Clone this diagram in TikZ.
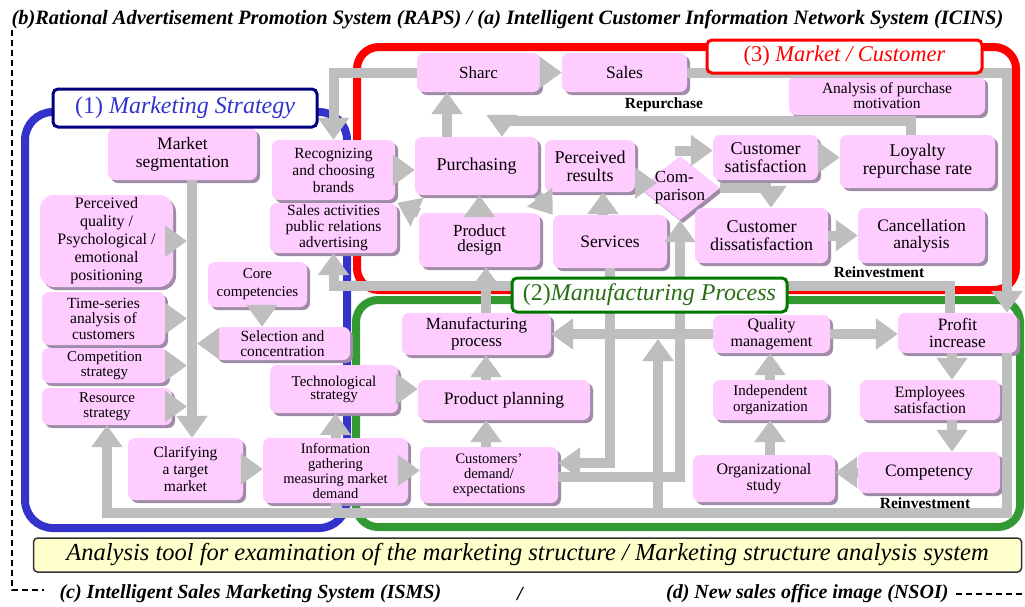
\documentclass[tikz,border=0pt]{standalone}
\usepackage{fontspec}
\setmainfont{Liberation Serif}
\usetikzlibrary{arrows.meta,shapes.geometric,shadows}
\definecolor{pinkbox}{RGB}{255,204,255}
\definecolor{boxshade}{RGB}{160,140,168}
\definecolor{arrgray}{RGB}{190,190,190}
\definecolor{mblue}{RGB}{51,51,204}
\definecolor{mnavy}{RGB}{0,0,128}
\definecolor{mgreen}{RGB}{51,153,51}
\definecolor{dgreen}{RGB}{0,120,0}
\definecolor{tgreen}{RGB}{40,110,20}
\definecolor{cream}{RGB}{255,255,204}

\begin{document}
\begin{tikzpicture}[x=1pt,y=-1pt,
	box/.style 2 args={rectangle,rounded corners=7pt,fill=pinkbox,align=center,inner sep=1pt,
		minimum width=#1pt,minimum height=#2pt,
		drop shadow={shadow xshift=3pt,shadow yshift=-3pt,fill=boxshade,opacity=1}},
	fs/.style 2 args={font=\fontsize{#1}{#2}\selectfont},
	flow/.style={draw=arrgray,line width=10pt,-{Triangle[length=22pt,width=30pt]}},
	pipe/.style={draw=arrgray,line width=10pt},
	tag/.style={rectangle,rounded corners=5pt,fill=white,line width=3pt,inner sep=0pt,fs={24}{24}},
	note/.style={font=\fontsize{15.5}{15.5}\selectfont\bfseries}]
	\useasboundingbox (0,0) rectangle (1025,606);
	\fill[white] (0,0) rectangle (1025,606);

	\draw[mblue,line width=8pt,rounded corners=28pt] (25,112) rectangle (347,528);
	\draw[red,line width=8pt,rounded corners=22pt] (357,47) rectangle (1016,290);
	\draw[mgreen,line width=8pt,rounded corners=22pt] (356,300) rectangle (1020,527);

	\node[box={149}{52},fs={17.5}{18}] (0) at (182.5,154) {Market\\segmentation};
	\node[box={133}{92},fs={16}{18},rounded corners=14pt] (1) at (106.5,241) {Perceived\\quality /\\Psychological /\\emotional\\positioning};
	\node[box={123}{53},fs={15.5}{15.5}] (2) at (103.5,318.5) {Time-series\\analysis of\\customers};
	\node[box={125}{35},fs={15}{15}] (3) at (104.5,365.5) {Competition\\strategy};
	\node[box={130}{37},fs={15}{15}] (4) at (107,406.5) {Resource\\strategy};
	\node[box={99}{45},fs={15}{18}] (5) at (257.5,284.5) {Core\\competencies};
	\node[box={135}{33},fs={15.5}{15}] (6) at (282.5,343.5) {Selection and\\concentration};
	\node[box={123}{60},fs={15.5}{17}] (7) at (333.5,170) {Recognizing\\and choosing\\brands};
	\node[box={127}{50},fs={15.5}{16}] (8) at (333.5,228) {Sales activities\\public relations\\advertising};
	\node[box={128}{48},fs={15}{13}] (9) at (334,389) {Technological\\strategy};
	\node[box={115}{62},fs={15.5}{17}] (10) at (185.5,469) {Clarifying\\a target\\market};
	\node[box={145}{65},fs={14.5}{15}] (11) at (335.5,470.5) {Information\\gathering\\measuring market\\demand};

	\node[box={123}{39},fs={17}{17}] (12) at (478.5,72.5) {Sharc};
	\node[box={125}{39},fs={17.5}{17}] (13) at (624.5,72.5) {Sales};
	\node[box={196}{39},fs={15.5}{15}] (14) at (887,95.5) {Analysis of purchase\\motivation};
	\node[box={123}{58},fs={18}{18}] (15) at (476.5,166) {Purchasing};
	\node[box={90}{52},fs={18}{18}] (16) at (590,166) {Perceived\\results};
	\node[diamond,fill=pinkbox,minimum width=80pt,minimum height=64pt,inner sep=0pt,fs={17}{18},
		drop shadow={shadow xshift=3pt,shadow yshift=-3pt,fill=boxshade,opacity=1}] (17) at (680,188)
		{\makebox[0pt]{\begin{tabular}{@{}l@{}}Com-\\parison\end{tabular}}};
	\node[box={105}{45},fs={18}{18}] (18) at (765.5,157.5) {Customer\\satisfaction};
	\node[box={155}{53},fs={18}{18}] (19) at (917.5,161.5) {Loyalty\\repurchase rate};
	\node[box={121}{54},fs={17}{15}] (20) at (479.5,240) {Product\\design};
	\node[box={114}{53},fs={17.5}{17}] (21) at (610,241.5) {Services};
	\node[box={133}{55},fs={18}{18}] (22) at (761.5,235.5) {Customer\\dissatisfaction};
	\node[box={127}{55},fs={17.5}{17}] (23) at (921.5,235.5) {Cancellation\\analysis};

	\node[box={149}{42},fs={17}{17}] (24) at (476.5,334) {Manufacturing\\process};
	\node[box={172}{40},fs={17.5}{17}] (25) at (504,400) {Product planning};
	\node[box={138}{56},fs={14.5}{15}] (26) at (489,475) {Customers'\\demand/\\expectations};
	\node[box={117}{38},fs={16}{17}] (27) at (771.5,334) {Quality\\management};
	\node[box={115}{40},fs={15}{16}] (28) at (770.5,400) {Independent\\organization};
	\node[box={142}{47},fs={16}{13}] (29) at (764,478.5) {Organizational\\study};
	\node[box={119}{40},fs={17.3}{17}] (30) at (957.5,333) {Profit\\increase};
	\node[box={140}{40},fs={15.8}{16}] (31) at (930,400) {Employees\\satisfaction};
	\node[box={142}{41},fs={17.4}{17}] (32) at (929,472.5) {Competency};

	\coordinate (t0) at (192,0);
	\coordinate (t1) at (187,0);
	\coordinate (t2) at (197,0);
	\coordinate (t3) at (262,0);
	\coordinate (b0) at (0,513);
	\coordinate (r0) at (1007,0);
	\coordinate (rl) at (0,286);
	\coordinate (re) at (950,0);
	\coordinate (c0) at (486,0);
	\coordinate (c1) at (447,0);
	\coordinate (c2) at (603,0);
	\coordinate (rp) at (502,121);
	\coordinate (rq) at (911,121);
	\coordinate (h1) at (0,463);
	\coordinate (h2) at (0,477);
	\coordinate (v2) at (658,0);
	\coordinate (v2t) at (658,339);
	\coordinate (k0) at (657,183);
	\coordinate (k1) at ([yshift=7pt]18.west);
	\coordinate (k2) at ([xshift=9.5pt]22.north);
	\coordinate (k5) at (952,0);
	\coordinate (k6) at (770,0);

	\draw[flow] (0.south -| t0) -- (10.north -| t0);
	\draw[flow] (1.east) -- (1.east -| t1);
	\draw[flow] (2.east) -- (2.east -| t1);
	\draw[flow] (3.east) -- (3.east -| t1);
	\draw[flow] (4.east) -- (4.east -| t1);
	\draw[flow] (6.west) -- (6.west -| t2);
	\draw[flow] (5.south -| t3) -- (6.north -| t3);
	\draw[flow] (10.east) -- (10.east -| 11.west);
	\draw[flow] (11.north) -- (11.north |- 9.south);
	\draw[flow] (9.east) -- (9.east -| 25.west);
	\draw[flow] (11.east) -- (11.east -| 26.west);
	\draw[pipe] (11.south) -- (11.south |- b0);
	\draw[flow] (30.south -| r0) -- (b0 -| r0) -- (b0 -| 4.south) -- (4.south);
	\draw[flow] (b0 -| v2) -- (v2t);
	\draw[flow] (27.west) -- (27.west -| 24.east);
	\draw[flow] (21.south) -- (21.south |- h1) -- (h1 -| 26.east);
	\draw[flow] (h2 -| 26.east) -- (h2 -| 17.south) -- (17.south);
	\draw[flow] (30.north -| re) -- (re |- rl) -- (rl -| 8.south) -- (8.south);
	\draw[flow] (24.north -| c0) -- (20.south -| c0);
	\draw[flow] (25.north -| c0) -- (24.south -| c0);
	\draw[flow] (26.north -| c0) -- (25.south -| c0);
	\draw[flow] (20.north) -- (20.north |- 15.south);
	\draw[flow] (15.north -| c1) -- (12.south -| c1);
	\draw[flow] (12.east) -- (13.west);
	\draw[flow] (13.east) -- (13.east -| r0) -- (30.north -| r0);
	\draw[flow] (12.west) -- (12.west -| 7.north) -- (7.north);
	\draw[flow] (7.east) -- (7.east -| 15.west);
	\draw[flow] (15.south east) -- (21.north west);
	\draw[flow] (20.north west) -- (8.north east);
	\draw[flow] (21.north -| c2) -- (16.south -| c2);
	\draw[flow] ([yshift=-17pt]16.east) -- (k0);
	\draw[flow] (17.north) -- (17.north |- k1) -- (k1);
	\draw[flow] (17.east) -- (17.east -| k2) -- (k2);
	\draw[flow] (18.east) -- (18.east -| 19.west);
	\draw[flow] (22.east) -- (22.east -| 23.west);
	\draw[flow] (19.north -| rq) -- (rq) -- (rp) -- (15.north -| rp);
	\draw[flow] (27.east) -- (27.east -| 30.west);
	\draw[flow] (30.south -| k5) -- (31.north -| k5);
	\draw[flow] (31.south -| k5) -- (32.north -| k5);
	\draw[flow] (32.west) -- (32.west -| 29.east);
	\draw[flow] (29.north -| k6) -- (28.south -| k6);
	\draw[flow] (28.north -| k6) -- (27.south -| k6);

	\node[note] (41) at (664,105) {Repurchase};
	\node[note] (42) at (879,272) {Reinvestment};
	\node[note] (43) at (925,503) {Reinvestment};

	\node[tag,draw=mnavy,text=mblue,minimum width=264pt,minimum height=38pt] (33) at (185,108) {(1) \textit{Marketing Strategy}};
	\node[tag,draw=red,text=red,minimum width=275pt,minimum height=33pt,fs={22.5}{22.5}] (34) at (844.5,56.5) {(3) \textit{Market / Customer}};
	\node[tag,draw=dgreen,text=tgreen,minimum width=275pt,minimum height=34pt] (35) at (649.5,295) {(2)\textit{Manufacturing Process}};

	\node[draw=black!80,line width=1.5pt,fill=cream,rounded corners=4pt,minimum width=988pt,minimum height=34pt,
		font=\fontsize{24.5}{24.5}\selectfont\itshape] (36) at (527.5,555) {Analysis tool for examination of the marketing structure / Marketing structure analysis system};
	\node[anchor=west,font=\fontsize{20.4}{20.4}\selectfont\bfseries\itshape] (37) at (8,20) {(b)Rational Advertisement Promotion System (RAPS) / (a) Intelligent Customer Information Network System (ICINS)};
	\node[anchor=west,font=\fontsize{20}{20}\selectfont\bfseries\itshape] (38) at (56,594) {(c) Intelligent Sales Marketing System (ISMS)};
	\node[font=\fontsize{20}{20}\selectfont\bfseries\itshape] (39) at (520,594) {/};
	\node[anchor=east,font=\fontsize{20}{20}\selectfont\bfseries\itshape] (40) at (952,594) {(d) New sales office image (NSOI)};

	\draw[line width=1.5pt,dash pattern=on 6pt off 4pt] (12,30) -- (12,590) -- (44,590);
	\draw[line width=1.5pt,dash pattern=on 6pt off 4pt] (956,594) -- (1022,594);
\end{tikzpicture}
\end{document}
